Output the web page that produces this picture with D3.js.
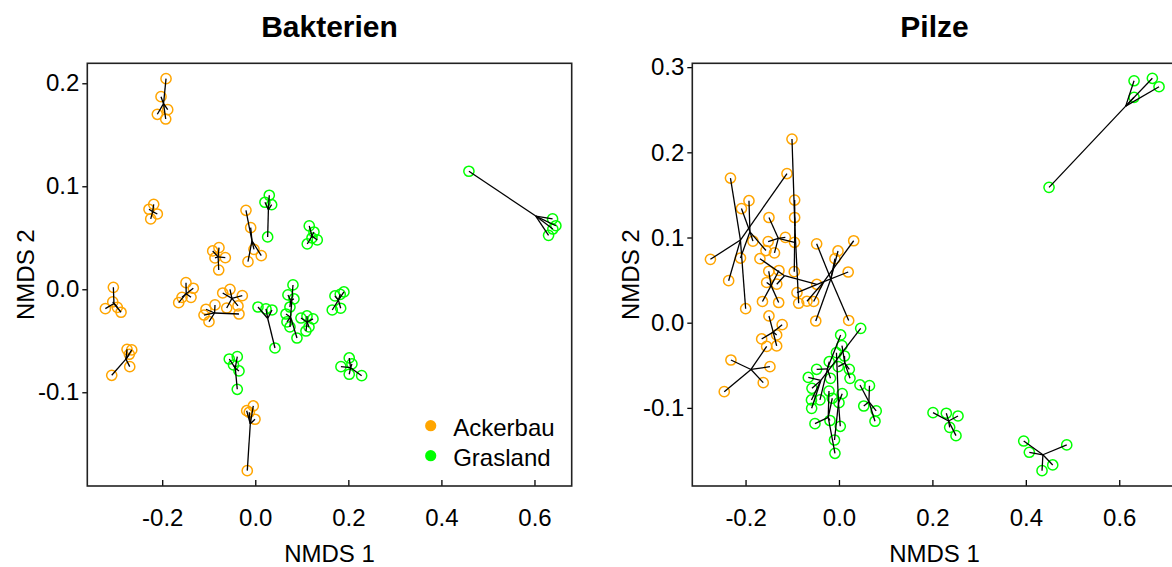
<!DOCTYPE html>
<html>
<head>
<meta charset="utf-8">
<script src="https://cdn.jsdelivr.net/npm/d3@7"></script>
<style>
  body { margin: 0; background: #fff; }
  svg { display: block; }
  text { font-family: "Liberation Sans", Arial, sans-serif; fill: #000; }
</style>
</head>
<body>
<svg id="chart" width="1172" height="567"></svg>
<script>
// ---- land use classes ----
const landUses = ["Ackerbau", "Grasland"];
const landColors = ["#FFA500", "#00FF00"];

// ---- tick values ----
const xTicks = [-0.2, 0.0, 0.2, 0.4, 0.6];
const bakYTicks = [-0.1, 0.0, 0.1, 0.2];
const pilYTicks = [-0.1, 0.0, 0.1, 0.2, 0.3];

// ---- Bakterien: NMDS scores, one array per site ----
const bakLand = [0,0,0,0,0,0,0,0,0,0, 1,1,1,1,1,1,1,1,1,1];
const bakNMDS1 = [
  [-0.1918, -0.2026, -0.1882, -0.2105, -0.1925],
  [-0.2284, -0.2183, -0.2105, -0.2247],
  [-0.0915, -0.0780, -0.0644, -0.0866, -0.0786],
  [-0.0200, -0.0099, -0.0157, -0.0028, 0.0129],
  [-0.3050, -0.3063, -0.3222, -0.2965, -0.2885],
  [-0.3085, -0.2756, -0.2655, -0.2707, -0.2698],
  [-0.1489, -0.1332, -0.1575, -0.1381, -0.1646],
  [-0.0866, -0.1059, -0.1102, -0.0995, -0.0350],
  [-0.0544, -0.0700, -0.0279, -0.0614, -0.0372],
  [-0.0185, -0.0043, -0.0129, -0.0006, -0.0172],
  [0.0301, 0.0208, 0.0352, 0.0266],
  [0.0058, 0.0230, 0.0359, 0.0423],
  [-0.0559, -0.0387, -0.0468, -0.0350, -0.0387],
  [0.0810, 0.0660, 0.0681, 0.0745, 0.0896],
  [0.0702, 0.0831, 0.0745],
  [0.0982, 0.1111, 0.1240, 0.1089, 0.1154],
  [0.1905, 0.1826, 0.1712, 0.1654, 0.1835],
  [0.2019, 0.1841, 0.2019, 0.2286, 0.2077],
  [0.4591, 0.6389, 0.6460, 0.6303, 0.6395],
  [0.1160, 0.1261, 0.1332, 0.1117, 0.1218]
];
const bakNMDS2 = [
  [0.2045, 0.1870, 0.1744, 0.1699, 0.1653],
  [0.0777, 0.0825, 0.0731, 0.0683],
  [0.0372, 0.0404, 0.0307, 0.0304, 0.0187],
  [0.0767, 0.0598, 0.0268, 0.0388, 0.0326],
  [0.0019, -0.0123, -0.0188, -0.0175, -0.0223],
  [-0.0835, -0.0583, -0.0589, -0.0631, -0.0751],
  [0.0064, 0.0010, -0.0078, -0.0078, -0.0130],
  [-0.0152, -0.0194, -0.0250, -0.0315, -0.0240],
  [0.0000, -0.0036, -0.0062, -0.0182, -0.0162],
  [-0.1179, -0.1133, -0.1194, -0.1262, -0.1761],
  [0.0913, 0.0845, 0.0821, 0.0508],
  [-0.0172, -0.0191, -0.0201, -0.0570],
  [-0.0677, -0.0654, -0.0735, -0.0793, -0.0971],
  [0.0042, -0.0240, -0.0317, -0.0366, -0.0473],
  [-0.0055, -0.0094, -0.0172],
  [-0.0279, -0.0259, -0.0288, -0.0405, -0.0366],
  [-0.0026, -0.0049, -0.0065, -0.0201, -0.0184],
  [-0.0667, -0.0751, -0.0825, -0.0839, -0.0725],
  [0.1146, 0.0683, 0.0617, 0.0524, 0.0585],
  [0.0615, 0.0556, 0.0479, 0.0440, 0.0498]
];

// ---- Pilze: NMDS scores, one array per site ----
const pilLand = [0,0,0,0,0,0,0,0,0,0, 1,1,1,1,1,1,1,1,1];
const pilNMDS1 = [
  [-0.1006, -0.0949, -0.0949, -0.0957, -0.0863],
  [-0.2323, -0.2752, -0.1113, -0.2362, -0.1998],
  [-0.1927, -0.2088, -0.2109, -0.1842, -0.1563],
  [-0.1499, -0.1516, -0.1148, -0.0953, -0.1381],
  [-0.1503, -0.1285, -0.1548, -0.1638, -0.1291],
  [-0.0899, -0.0685, -0.0542, 0.0315, 0.0197],
  [-0.0478, -0.0021, -0.0086, -0.0497, 0.0208],
  [-0.1692, -0.1332, -0.0475],
  [-0.1499, -0.1216, -0.1655, -0.1334, -0.1334],
  [-0.1548, -0.2313, -0.1478, -0.1621, -0.2456],
  [0.0450, 0.0653, 0.0531, 0.0797, 0.0771],
  [0.0064, 0.0118, 0.0221, 0.0236, -0.0015],
  [0.0465, -0.0657, -0.0578, -0.0589, -0.0585],
  [0.0036, -0.0208, -0.0478, -0.0182, -0.0407],
  [-0.0214, -0.0514, -0.0086, -0.0193, -0.0143],
  [0.0069, 0.0000, 0.0028, -0.0096, -0.0054],
  [0.2013, 0.2298, 0.2548, 0.2370, 0.2505],
  [0.3955, 0.4075, 0.4876, 0.4576, 0.4347],
  [0.6317, 0.6709, 0.6852, 0.6317, 0.4497]
];
const pilNMDS2 = [
  [0.2156, 0.1440, 0.1235, 0.0599, 0.0228],
  [0.1698, 0.0744, 0.1751, 0.0493, 0.0164],
  [0.1432, 0.1340, 0.0759, 0.0957, 0.0847],
  [0.1235, 0.0953, 0.1002, 0.0944, 0.0820],
  [0.0604, 0.0613, 0.0472, 0.0249, 0.0237],
  [0.0354, 0.0252, 0.0249, 0.0962, 0.0595],
  [0.0926, 0.0842, 0.0751, 0.0020, 0.0026],
  [0.0751, 0.0452, 0.0451],
  [0.0079, -0.0023, -0.0191, -0.0144, -0.0273],
  [-0.0278, -0.0438, -0.0516, -0.0704, -0.0810],
  [-0.0731, -0.0739, -0.0978, -0.1036, -0.1157],
  [-0.0268, -0.0391, -0.0547, -0.0653, -0.0516],
  [-0.0066, -0.0643, -0.0770, -0.0907, -0.1005],
  [-0.0144, -0.0458, -0.0547, -0.0653, -0.0907],
  [-0.0802, -0.1185, -0.1533, -0.1148, -0.0887],
  [-0.0833, -0.0939, -0.1216, -0.1377, -0.0352],
  [-0.1056, -0.1063, -0.1095, -0.1228, -0.1326],
  [-0.1389, -0.1521, -0.1435, -0.1670, -0.1737],
  [0.2840, 0.2869, 0.2770, 0.2646, 0.1589]
];

// ---- layout ----
const plotTop = 63.3, plotBottom = 486, plotW = 484.4;
const fontSize = 24;
const svg = d3.select("#chart");
const fmt = d3.formatLocale({decimal: ".", thousands: ",", grouping: [3], currency: ["", ""], minus: "-"}).format(".1f");

const panels = [
  {title: "Bakterien", left: 87.3, xDomain: [-0.361, 0.680], yDomain: [-0.191, 0.2194],
   yTicks: bakYTicks, land: bakLand, nmds1: bakNMDS1, nmds2: bakNMDS2, legend: true},
  {title: "Pilze", left: 692.3, xDomain: [-0.314, 0.723], yDomain: [-0.1917, 0.3045],
   yTicks: pilYTicks, land: pilLand, nmds1: pilNMDS1, nmds2: pilNMDS2, legend: false}
];

function styleAxis(sel) {
  sel.select(".domain").remove();
  sel.selectAll(".tick line").attr("stroke", "#000").attr("stroke-width", 1.3);
  sel.selectAll(".tick text")
    .attr("font-family", "Liberation Sans, Arial, sans-serif")
    .attr("font-size", fontSize).attr("fill", "#000");
  sel.attr("font-family", null).attr("font-size", null);
}

panels.forEach(p => {
  const x = d3.scaleLinear().domain(p.xDomain).range([p.left, p.left + plotW]);
  const y = d3.scaleLinear().domain(p.yDomain).range([plotBottom, plotTop]);
  const g = svg.append("g");
  const cx = p.left + plotW / 2;

  // bottom axis (inward ticks)
  g.append("g").attr("transform", `translate(0,${plotBottom})`)
    .call(d3.axisBottom(x).tickValues(xTicks).tickFormat(fmt).tickSize(-6).tickPadding(23))
    .call(styleAxis);

  // left axis
  g.append("g").attr("transform", `translate(${p.left},0)`)
    .call(d3.axisLeft(y).tickValues(p.yTicks).tickFormat(fmt).tickSize(5).tickPadding(3))
    .call(styleAxis);

  // sample points (open circles)
  const pts = [];
  p.nmds1.forEach((xs, s) => xs.forEach((v, i) => pts.push({s, x: v, y: p.nmds2[s][i]})));
  g.append("g").selectAll("circle").data(pts).join("circle")
    .attr("cx", d => x(d.x)).attr("cy", d => y(d.y)).attr("r", 5.1)
    .attr("fill", "none").attr("stroke", d => landColors[p.land[d.s]]).attr("stroke-width", 1.5);

  // spider: site centroid to each sample
  const cent = p.nmds1.map((xs, s) => ({x: d3.mean(xs), y: d3.mean(p.nmds2[s])}));
  g.append("g").selectAll("line").data(pts).join("line")
    .attr("x1", d => x(cent[d.s].x)).attr("y1", d => y(cent[d.s].y))
    .attr("x2", d => x(d.x)).attr("y2", d => y(d.y))
    .attr("stroke", "#000").attr("stroke-width", 1.3);

  // frame
  g.append("rect").attr("x", p.left).attr("y", plotTop)
    .attr("width", plotW).attr("height", plotBottom - plotTop)
    .attr("fill", "none").attr("stroke", "#222").attr("stroke-width", 1.6);

  // titles and axis labels
  g.append("text").attr("x", cx).attr("y", 37).attr("text-anchor", "middle")
    .attr("font-size", 30).attr("font-weight", "bold").text(p.title);
  g.append("text").attr("x", cx).attr("y", 562).attr("text-anchor", "middle")
    .attr("font-size", fontSize).text("NMDS 1");
  g.append("text")
    .attr("transform", `translate(${p.left - 53},${(plotTop + plotBottom) / 2}) rotate(-90)`)
    .attr("text-anchor", "middle").attr("font-size", fontSize).text("NMDS 2");

  if (p.legend) {
    const lg = g.append("g").selectAll("g").data(landUses).join("g")
      .attr("transform", (d, i) => `translate(430.7,${425.7 + i * 30})`);
    lg.append("circle").attr("r", 5.6).attr("fill", (d, i) => landColors[i]);
    lg.append("text").attr("x", 22.5).attr("y", 10.3).attr("font-size", fontSize).text(d => d);
  }
});
</script>
</body>
</html>
